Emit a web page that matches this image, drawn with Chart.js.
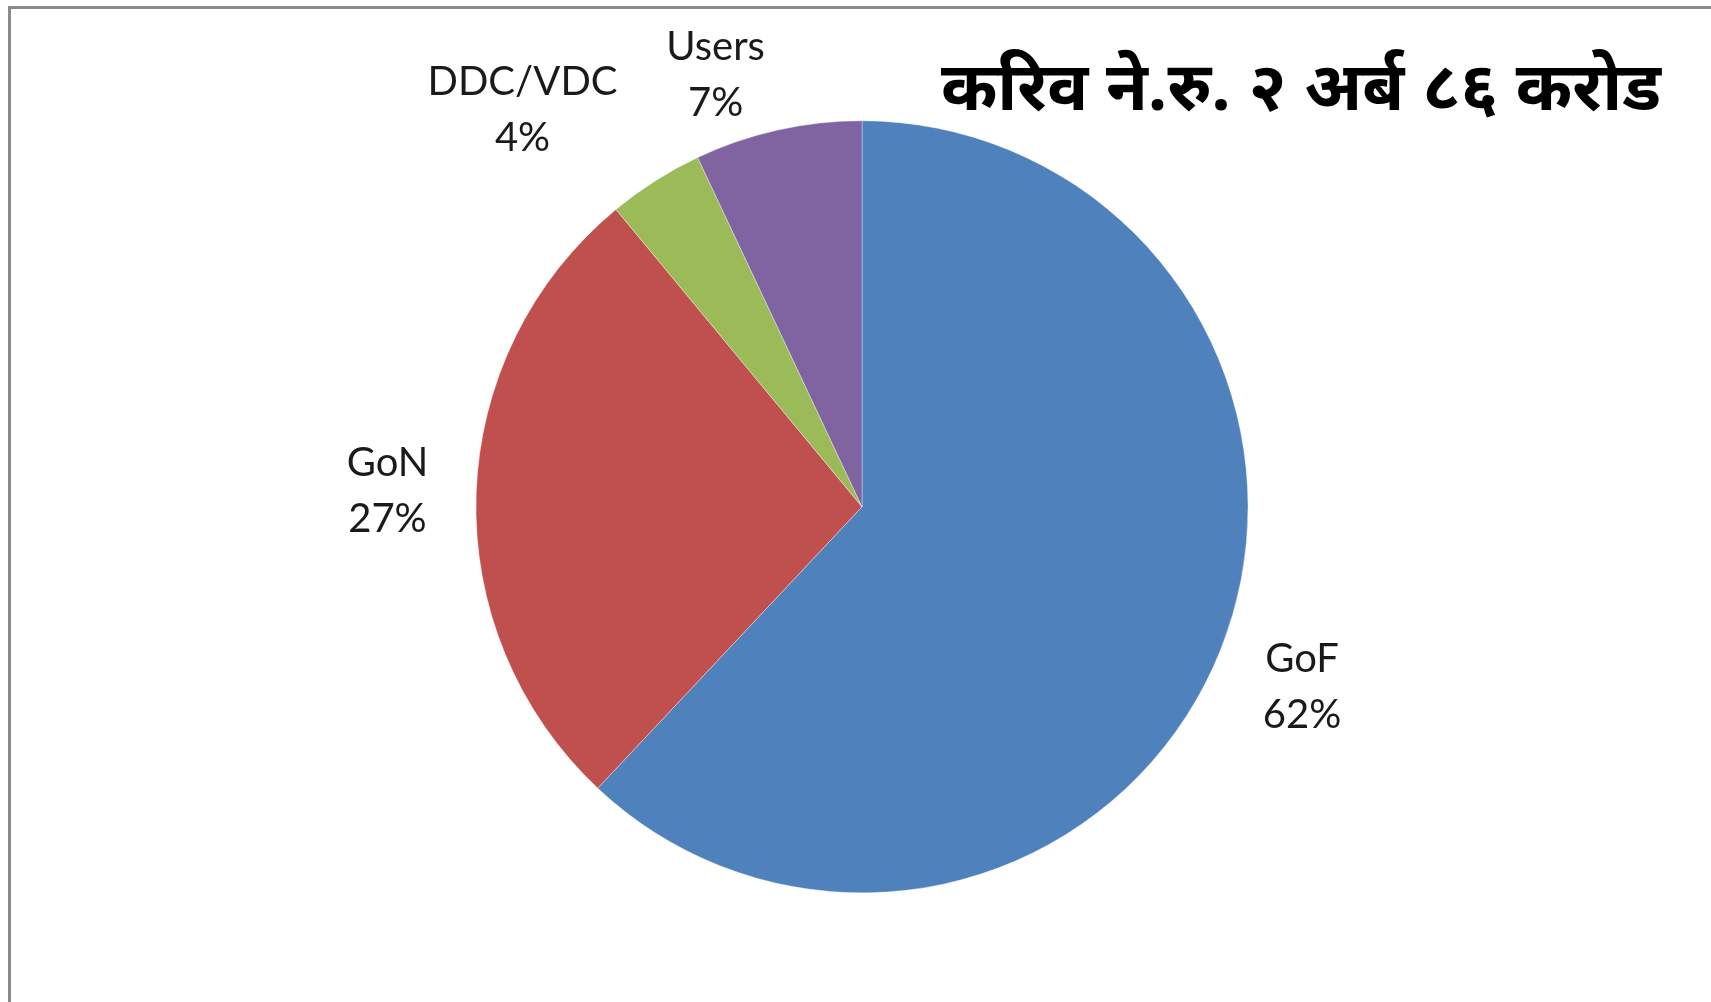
<!DOCTYPE html>
<html>
<head>
<meta charset="utf-8">
<script src="https://cdn.jsdelivr.net/npm/chart.js@4"></script>
<style>
  html, body { margin: 0; padding: 0; background: #fff; }
  #wrap { position: relative; width: 1711px; height: 1002px; }
  #frame { position: absolute; left: 8px; top: 6px; right: -10px; bottom: -10px;
           border-left: 3px solid #8a8a8a; border-top: 3px solid #8a8a8a; pointer-events: none; }
</style>
</head>
<body>
<div id="wrap">
  <canvas id="fundPie" width="1711" height="1002"></canvas>
  <div id="frame"></div>
</div>
<script>
// funding share data
const categories = ["GoF", "GoN", "DDC/VDC", "Users"];
const shares = [62, 27, 4, 7];
const sliceColors = ["#4f81bd", "#c0504d", "#9bbb59", "#8064a2"];
const titleText = "करिव ने.रु. २ अर्ब ८६ करोड";

// labels outside each slice, excel style
const outsideLabels = {
  id: "outsideLabels",
  afterDatasetsDraw(chart, args, opts) {
    const ctx = chart.ctx;
    const meta = chart.getDatasetMeta(0);
    ctx.save();
    ctx.font = opts.font;
    ctx.fillStyle = opts.color;
    ctx.textAlign = "center";
    ctx.textBaseline = "middle";
    meta.data.forEach((arc, i) => {
      const p = arc.getProps(["x", "y", "startAngle", "endAngle", "outerRadius"], true);
      const mid = (p.startAngle + p.endAngle) / 2;
      const dx = Math.cos(mid), dy = Math.sin(mid);
      const lines = [categories[i], shares[i] + "%"];
      const w = Math.max(...lines.map(l => ctx.measureText(l).width));
      const h = lines.length * opts.lineHeight;
      const nudge = opts.nudge[i] || [0, 0];
      let cx = p.x + dx * (p.outerRadius + opts.gap) + dx * w / 2 + nudge[0];
      let cy = p.y + dy * (p.outerRadius + opts.gap) + dy * h / 2 + nudge[1];
      lines.forEach((l, k) => {
        ctx.fillText(l, cx, cy - h / 2 + opts.lineHeight * (k + 0.5));
      });
    });
    ctx.restore();
  }
};

const ctxPie = document.getElementById("fundPie").getContext("2d");
new Chart(ctxPie, {
  type: "pie",
  data: {
    labels: categories,
    datasets: [
      {
        data: shares,
        backgroundColor: sliceColors,
        borderColor: "rgba(255,255,255,0.35)",
        borderWidth: 1
      }
    ]
  },
  options: {
    responsive: false,
    animation: false,
    radius: 386,
    layout: { padding: { top: 56, left: 63, right: 50, bottom: 126 } },
    plugins: {
      legend: { display: false },
      tooltip: { enabled: false },
      title: {
        display: true,
        text: titleText,
        align: "end",
        color: "#000",
        padding: 0,
        font: { family: "'Noto Sans Devanagari', 'Noto Sans', sans-serif", size: 68, weight: "bold", lineHeight: 1.2 }
      },
      outsideLabels: {
        font: "40px Lato, 'Open Sans', sans-serif",
        color: "#1a1a1a",
        lineHeight: 56,
        gap: 48,
        nudge: [[0, 0], [0, 0], [-56, 17], [-41, 46]]
      }
    }
  },
  plugins: [outsideLabels]
});
</script>
</body>
</html>
